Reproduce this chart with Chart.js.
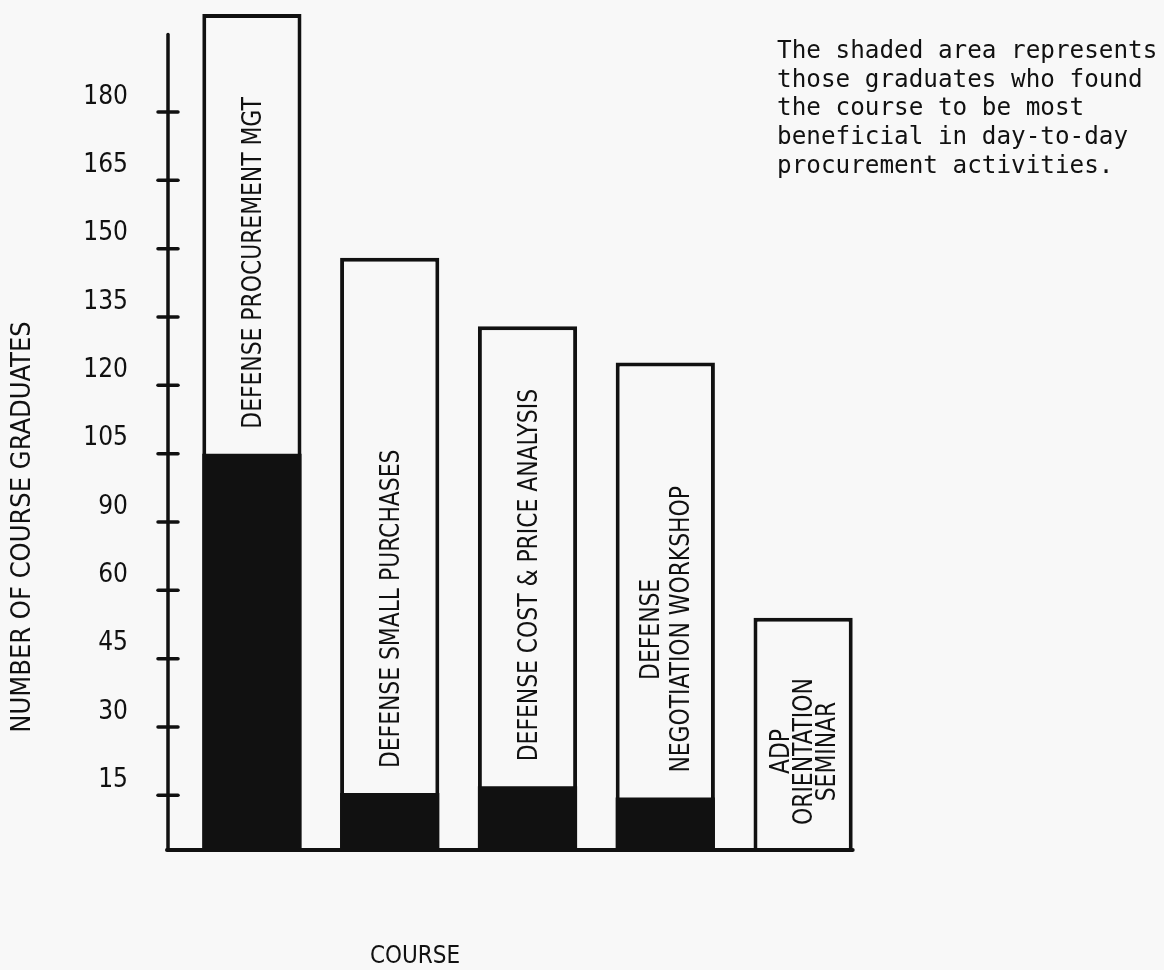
<!DOCTYPE html>
<html>
<head>
<meta charset="utf-8">
<title>Course graduates</title>
<script src="https://cdn.jsdelivr.net/npm/chart.js@4/dist/chart.umd.min.js"></script>
<style>
  html, body { margin: 0; padding: 0; background: #f8f8f8; }
  #wrap { width: 1164px; height: 970px; position: relative; }
</style>
</head>
<body>
<div id="wrap"><canvas id="courseChart"></canvas></div>
<script>
// values are in axis units (the printed tick labels skip 75, so the labels are kept separately)
var categories = [
  'DEFENSE PROCUREMENT MGT',
  'DEFENSE SMALL PURCHASES',
  'DEFENSE COST & PRICE ANALYSIS',
  ['DEFENSE', 'NEGOTIATION WORKSHOP'],
  ['ADP', 'ORIENTATION', 'SEMINAR']
];
var totalGraduates = [186.5, 133, 118, 110, 54];
var mostBeneficial = [90, 15.5, 17, 14.5, 0];
var tickLabels = ['15', '30', '45', '60', '90', '105', '120', '135', '150', '165', '180'];

var yTitle = 'NUMBER OF COURSE GRADUATES';
var xTitle = 'COURSE';
var note = [
  'The shaded area represents',
  'those graduates who found',
  'the course to be most',
  'beneficial in day-to-day',
  'procurement activities.'
];

var ink = '#111111';
var paper = '#f8f8f8';
var narrow = '"Liberation Sans Narrow", "DejaVu Sans Condensed", "Roboto", sans-serif';
var mono = '"DejaVu Sans Mono", "Liberation Mono", monospace';

var extras = {
  id: 'extras',
  afterDraw: function(chart) {
    var ctx = chart.ctx;
    var area = chart.chartArea;
    var y = chart.scales.y;
    var axisX = area.left - 15;
    var totals = chart.getDatasetMeta(1).data;
    var shaded = chart.getDatasetMeta(0).data;

    ctx.save();
    ctx.strokeStyle = ink;
    ctx.fillStyle = ink;
    ctx.lineCap = 'round';

    // y axis line with crossing tick marks
    ctx.lineWidth = 3.5;
    ctx.beginPath();
    ctx.moveTo(axisX, y.getPixelForValue(182));
    ctx.lineTo(axisX, area.bottom);
    ctx.stroke();
    y.ticks.forEach(function(t, i) {
      if (!tickLabels[i]) return;
      var py = y.getPixelForTick(i);
      ctx.beginPath();
      ctx.moveTo(axisX - 10, py);
      ctx.lineTo(axisX + 10, py);
      ctx.stroke();
    });

    // baseline
    var last = totals[totals.length - 1];
    ctx.lineWidth = 4;
    ctx.beginPath();
    ctx.moveTo(axisX - 1, area.bottom);
    ctx.lineTo(last.x + last.width / 2, area.bottom);
    ctx.stroke();

    // course names written up the white part of each bar, ending just above the shading
    var squeeze = 0.9;
    ctx.font = '27px ' + narrow;
    ctx.textAlign = 'center';
    ctx.textBaseline = 'middle';
    totals.forEach(function(bar, i) {
      var bottom = mostBeneficial[i] > 0 ? shaded[i].y : area.bottom;
      var lines = [].concat(categories[i]);
      var longest = Math.max.apply(null, lines.map(function(ln) { return ctx.measureText(ln).width; })) * squeeze;
      var mid = bottom - 25 - longest / 2;
      var gap = lines.length > 2 ? 23 : 30;
      ctx.save();
      ctx.translate(bar.x + 2, mid);
      ctx.rotate(-Math.PI / 2);
      ctx.scale(squeeze, 1);
      lines.forEach(function(ln, k) {
        ctx.fillText(ln, 0, (k - (lines.length - 1) / 2) * gap);
      });
      ctx.restore();
    });

    // axis titles
    ctx.save();
    ctx.font = '27px ' + narrow;
    ctx.translate(23, 527);
    ctx.rotate(-Math.PI / 2);
    ctx.fillText(yTitle, 0, 0);
    ctx.restore();

    ctx.font = '24px ' + narrow;
    ctx.fillText(xTitle, 415, 957);

    // note, top right
    ctx.font = '24.3px ' + mono;
    ctx.textAlign = 'left';
    ctx.textBaseline = 'alphabetic';
    note.forEach(function(ln, k) {
      ctx.fillText(ln, 777, 58 + k * 28.7);
    });
    ctx.restore();
  }
};

var ctx = document.getElementById('courseChart').getContext('2d');
var courseChart = new Chart(ctx, {
  type: 'bar',
  data: {
    labels: categories,
    datasets: [{
      label: 'Most beneficial',
      data: mostBeneficial,
      backgroundColor: ink,
      borderWidth: 0,
      grouped: false,
      clip: 0,
      barPercentage: 0.72,
      categoryPercentage: 1
    }, {
      label: 'Course graduates',
      data: totalGraduates,
      backgroundColor: paper,
      borderColor: ink,
      borderWidth: 4,
      grouped: false,
      clip: 0,
      barPercentage: 0.72,
      categoryPercentage: 1
    }]
  },
  options: {
    responsive: true,
    maintainAspectRatio: false,
    animation: false,
    layout: { padding: { top: 10, right: 292, left: 0, bottom: 0 } },
    plugins: {
      legend: { display: false },
      tooltip: { enabled: false }
    },
    scales: {
      x: {
        grid: { display: false, drawTicks: false },
        border: { display: false },
        ticks: { display: false },
        afterFit: function(s) { s.height = 120; }
      },
      y: {
        min: 3,
        max: 187.4,
        grid: { display: false, drawTicks: false },
        border: { display: false },
        ticks: {
          stepSize: 15,
          includeBounds: false,
          autoSkip: false,
          padding: 55,
          labelOffset: -15,
          color: ink,
          font: { family: narrow, size: 26 },
          callback: function(value, index) {
            return tickLabels[index] || '';
          }
        },
        afterFit: function(s) {
          s.width = 183;
          s.paddingTop = 0;
          s.paddingBottom = 0;
        }
      }
    }
  },
  plugins: [extras]
});
</script>
</body>
</html>
